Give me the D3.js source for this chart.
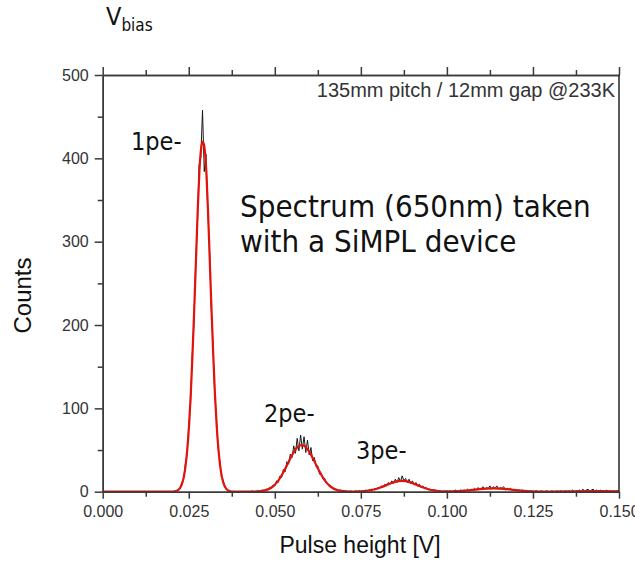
<!DOCTYPE html>
<html>
<head>
<meta charset="utf-8">
<script src="https://cdn.jsdelivr.net/npm/d3@7"></script>
<style>
  body { margin: 0; background: #fff; }
  .tick-label { font-family: "Liberation Sans", Arial, sans-serif; }
  .note { font-family: "DejaVu Sans Condensed", "Noto Sans", sans-serif; fill: #111; }
</style>
</head>
<body>
<div id="spectrum"></div>
<script>
// Histogram of pulse heights (bins of 0.5 mV starting at 0 V)
const binWidth = 0.0005;
const counts = [
    0, 0, 0, 0, 0, 0, 0, 0, 0, 0,            // 0.000
    0, 0, 0, 0, 0, 0, 0, 0, 0, 0,            // 0.005
    0, 0, 0, 0, 0, 0, 0, 0, 0, 0,            // 0.010
    0, 0, 0, 0, 0, 0, 0, 0, 0, 0,            // 0.015
    0, 0, 1, 0, 3, 4, 11, 15, 33, 45,        // 0.020
    79, 104, 163, 201, 275, 318, 392, 401, 458, 384, // 0.025
    405, 339, 297, 224, 181, 121, 92, 53, 38, 18,    // 0.030
    14, 5, 3, 1, 1, 0, 0, 0, 0, 0,           // 0.035
    0, 0, 0, 0, 0, 0, 0, 1, 0, 0,            // 0.040
    1, 0, 1, 2, 1, 3, 2, 5, 4, 8,            // 0.045
    7, 13, 11, 19, 17, 27, 24, 36, 33, 45,   // 0.050
    41, 55, 46, 64, 49, 68, 51, 66, 47, 62,  // 0.055
    44, 53, 37, 41, 30, 31, 21, 22, 15, 16,  // 0.060
    10, 9, 6, 6, 3, 3, 2, 1, 2, 1,           // 0.065
    0, 1, 0, 0, 1, 0, 0, 1, 0, 1,            // 0.070
    0, 1, 1, 2, 1, 2, 3, 2, 4, 3,            // 0.075
    5, 4, 7, 6, 9, 7, 11, 9, 13, 10,         // 0.080
    15, 11, 17, 12, 19, 13, 16, 11, 15, 10,  // 0.085
    13, 8, 11, 7, 9, 5, 7, 4, 5, 2,          // 0.090
    3, 2, 1, 2, 1, 0, 1, 0, 1, 0,            // 0.095
    1, 0, 1, 0, 1, 2, 0, 1, 2, 1,            // 0.100
    2, 1, 3, 1, 3, 2, 4, 2, 5, 3,            // 0.105
    4, 6, 3, 5, 4, 7, 3, 6, 4, 7,            // 0.110
    3, 5, 4, 6, 2, 4, 3, 4, 2, 3,            // 0.115
    1, 2, 2, 1, 2, 0, 1, 1, 0, 1,            // 0.120
    0, 0, 1, 0, 0, 1, 0, 0, 1, 0,            // 0.125
    0, 1, 0, 0, 1, 0, 1, 0, 0, 1,            // 0.130
    0, 1, 0, 2, 0, 1, 1, 2, 0, 3,            // 0.135
    1, 2, 3, 1, 2, 3, 1, 2, 0, 2,            // 0.140
    1, 0, 1, 2, 0, 1, 0, 1, 0, 1,            // 0.145
    0
];

// Multi-peak fit (red curve)
const fitVoltage = [
    0, 0.010, 0.018, 0.020, 0.021, 0.0216, 0.0221, 0.0226, 0.0231, 0.0236,
    0.0241, 0.0246, 0.0251, 0.0256, 0.0261, 0.0266, 0.0271, 0.0276, 0.0281, 0.0286,
    0.0291, 0.0296, 0.0301, 0.0306, 0.0311, 0.0316, 0.0321, 0.0326, 0.0331, 0.0336,
    0.0341, 0.0346, 0.0351, 0.0356, 0.0361, 0.0366, 0.0371, 0.038, 0.042, 0.0438,
    0.0458, 0.0468, 0.0478, 0.0488, 0.0498, 0.0508, 0.0518, 0.0528, 0.0538, 0.0548,
    0.0558, 0.0568, 0.0578, 0.0588, 0.0598, 0.0608, 0.0618, 0.0628, 0.0638, 0.0648,
    0.0658, 0.0668, 0.0678, 0.0688, 0.0698, 0.0718, 0.0729, 0.0749, 0.0769, 0.0779,
    0.0789, 0.0799, 0.0809, 0.0819, 0.0829, 0.0839, 0.0849, 0.0859, 0.0869, 0.0879,
    0.0889, 0.0899, 0.0909, 0.0919, 0.0929, 0.0939, 0.0949, 0.0959, 0.0969, 0.0989,
    0.1015, 0.1035, 0.1055, 0.1075, 0.1095, 0.1115, 0.1135, 0.1155, 0.1175, 0.1195,
    0.1215, 0.1235, 0.1255, 0.1285, 0.135, 0.142, 0.150
];
const fitCounts = [
    0, 0, 0, 0.1, 0.5, 1.3, 2.7, 5.3, 10.2, 18.4,
    32, 52, 80, 118, 166, 220, 278, 337, 385, 412,
    420, 412, 385, 337, 278, 220, 166, 118, 80, 52,
    32, 18.4, 10.2, 5.3, 2.7, 1.3, 0.5, 0.1, 0.1, 0.1,
    0.6, 1.3, 2.5, 4.5, 7.6, 12.1, 18.2, 25.6, 34, 42.3,
    49.4, 54.3, 56, 54.3, 49.4, 42.3, 34, 25.6, 18.2, 12.1,
    7.6, 4.5, 2.5, 1.3, 0.6, 0.2, 0.2, 0.4, 1.1, 1.8,
    2.7, 3.9, 5.3, 7.0, 8.8, 10.4, 11.8, 12.7, 13, 12.7,
    11.8, 10.4, 8.8, 7.0, 5.3, 3.9, 2.7, 1.8, 1.2, 0.5,
    0.5, 0.8, 1.4, 2.2, 3.1, 3.7, 4, 3.7, 3.1, 2.2,
    1.4, 0.8, 0.4, 0.1, 0.3, 0.6, 0.3
];

// Axis ticks
const xTicks = [0, 0.025, 0.05, 0.075, 0.1, 0.125, 0.15];
const xMinorTicks = [0.0125, 0.0375, 0.0625, 0.0875, 0.1125, 0.1375];
const yTicks = [0, 100, 200, 300, 400, 500];
const yMinorTicks = [50, 150, 250, 350, 450];

// Annotations
const peakLabels = [
    { text: "1pe-", x: 131, y: 150 },
    { text: "2pe-", x: 264, y: 422 },
    { text: "3pe-", x: 356, y: 459 }
];
const noteLines = ["Spectrum (650nm) taken", "with a SiMPL device"];

const drawSpectrum = () => {
    const width = 635;
    const height = 562;
    const plot = { left: 102.7, right: 619, top: 75, bottom: 491.7 };
    const axisColour = "#3a3a3a";

    const svg = d3.select("#spectrum")
        .append("svg")
            .attr("width", width)
            .attr("height", height);

    const xScale = d3.scaleLinear()
        .domain([0, 0.15])
        .range([plot.left, plot.right]);
    const yScale = d3.scaleLinear()
        .domain([0, 500])
        .range([plot.bottom, plot.top]);

    // Raw histogram, thin black trace
    const histLine = d3.line()
        .x((d, i) => xScale(i * binWidth))
        .y(d => yScale(d));
    svg.append("path")
        .datum(counts)
        .attr("fill", "none")
        .attr("stroke", "#1a1a1a")
        .attr("stroke-width", 1)
        .attr("d", histLine);

    // Fit on top, red
    const fitLine = d3.line()
        .x(d => xScale(d[0]))
        .y(d => yScale(d[1]))
        .curve(d3.curveMonotoneX);
    svg.append("path")
        .datum(fitVoltage.map((v, i) => [v, fitCounts[i]]))
        .attr("fill", "none")
        .attr("stroke", "#e3120b")
        .attr("stroke-width", 2.2)
        .attr("d", fitLine);

    // Axes: major ticks with labels, minor ticks without
    const styleAxis = (g, labelled) => {
        g.select(".domain").attr("stroke", axisColour).attr("stroke-width", 1.5);
        g.selectAll(".tick line").attr("stroke", axisColour).attr("stroke-width", 1.5);
        g.selectAll(".tick text")
            .attr("class", "tick-label")
            .attr("fill", "#333")
            .style("font-size", "16px");
        if (!labelled) g.selectAll(".tick text").remove();
    };

    svg.append("g")
        .attr("transform", `translate(0, ${plot.bottom})`)
        .call(d3.axisBottom(xScale).tickValues(xTicks).tickFormat(d3.format(".3f"))
            .tickSize(7).tickSizeOuter(0).tickPadding(7))
        .call(g => styleAxis(g, true));
    svg.append("g")
        .attr("transform", `translate(0, ${plot.bottom})`)
        .call(d3.axisBottom(xScale).tickValues(xMinorTicks).tickSize(5).tickSizeOuter(0))
        .call(g => styleAxis(g, false));

    svg.append("g")
        .attr("transform", `translate(0, ${plot.top})`)
        .call(d3.axisTop(xScale).tickValues(xTicks).tickSize(8).tickSizeOuter(0))
        .call(g => styleAxis(g, false));
    svg.append("g")
        .attr("transform", `translate(0, ${plot.top})`)
        .call(d3.axisTop(xScale).tickValues(xMinorTicks).tickSize(5).tickSizeOuter(0))
        .call(g => styleAxis(g, false));

    svg.append("g")
        .attr("transform", `translate(${plot.left}, 0)`)
        .call(d3.axisLeft(yScale).tickValues(yTicks).tickSize(8).tickSizeOuter(0).tickPadding(6))
        .call(g => styleAxis(g, true));
    svg.append("g")
        .attr("transform", `translate(${plot.left}, 0)`)
        .call(d3.axisLeft(yScale).tickValues(yMinorTicks).tickSize(5).tickSizeOuter(0))
        .call(g => styleAxis(g, false));

    // Right frame, no ticks
    svg.append("line")
        .attr("x1", plot.right).attr("x2", plot.right)
        .attr("y1", plot.top).attr("y2", plot.bottom)
        .attr("stroke", "#222")
        .attr("stroke-width", 1.5);

    // Axis titles
    svg.append("text")
        .attr("class", "tick-label")
        .attr("x", 360)
        .attr("y", 553)
        .attr("text-anchor", "middle")
        .attr("fill", "#111")
        .style("font-size", "23px")
        .text("Pulse height [V]");
    svg.append("text")
        .attr("class", "tick-label")
        .attr("transform", "translate(30.5, 295.5) rotate(-90)")
        .attr("text-anchor", "middle")
        .attr("fill", "#111")
        .style("font-size", "24px")
        .text("Counts");

    // Condition label in the corner
    svg.append("text")
        .attr("class", "tick-label")
        .attr("x", 615)
        .attr("y", 96.7)
        .attr("text-anchor", "end")
        .attr("fill", "#333")
        .style("font-size", "20px")
        .text("135mm pitch / 12mm gap @233K");

    // V_bias heading
    const vbias = svg.append("text")
        .attr("class", "note")
        .attr("x", 106)
        .attr("y", 25)
        .style("font-size", "25px")
        .text("V");
    vbias.append("tspan")
        .attr("dy", 5.7)
        .style("font-size", "17px")
        .text("bias");

    // Peak labels
    svg.selectAll(".peak-label")
        .data(peakLabels)
        .enter()
        .append("text")
        .attr("class", "note peak-label")
        .attr("x", d => d.x)
        .attr("y", d => d.y)
        .style("font-size", "25px")
        .text(d => d.text);

    // Description
    svg.selectAll(".desc")
        .data(noteLines)
        .enter()
        .append("text")
        .attr("class", "note desc")
        .attr("x", 240)
        .attr("y", (d, i) => 216.7 + i * 35)
        .style("font-size", "31px")
        .text(d => d);
};

drawSpectrum();
</script>
</body>
</html>
